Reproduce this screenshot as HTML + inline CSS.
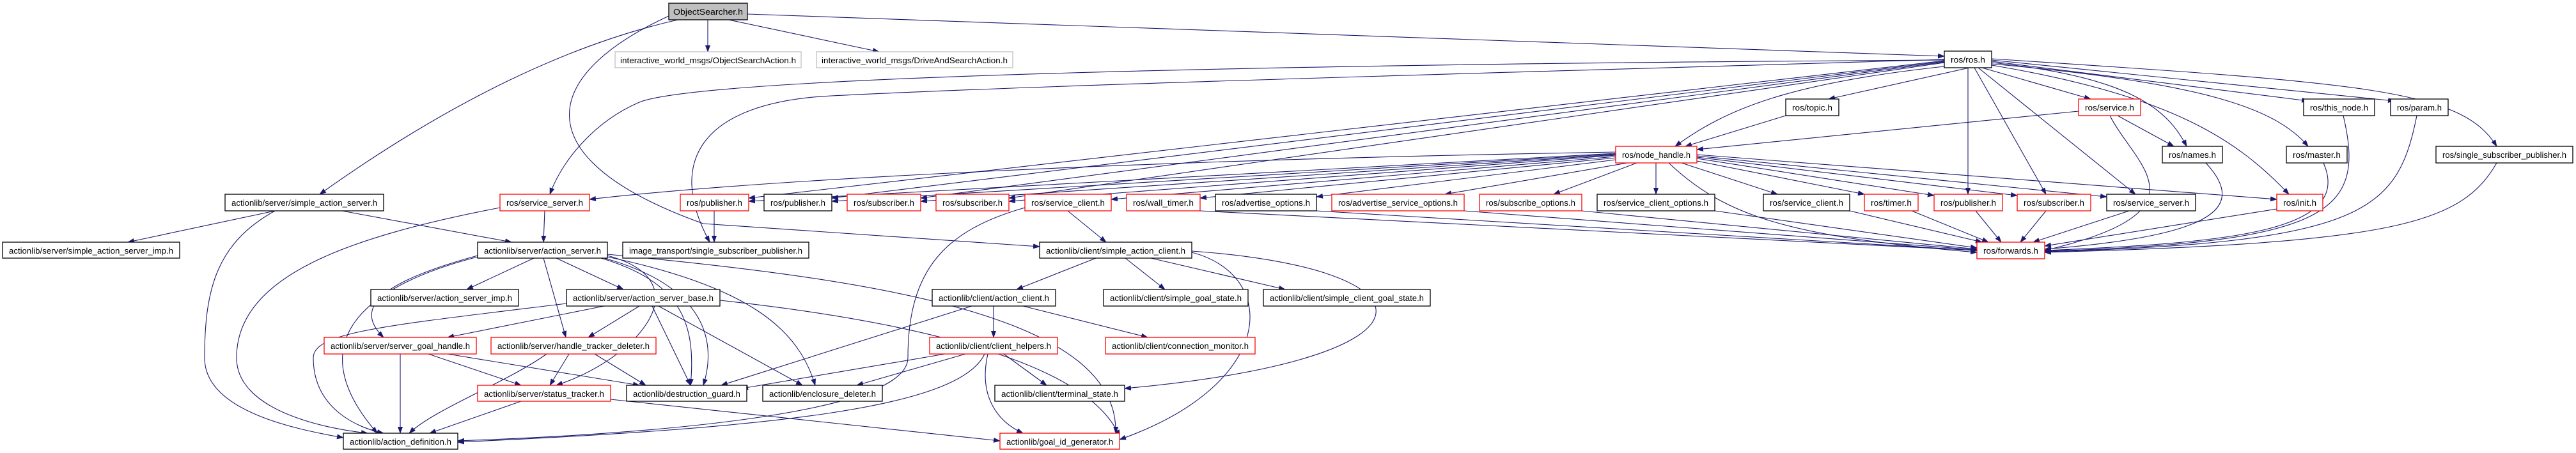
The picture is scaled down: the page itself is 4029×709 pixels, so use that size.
<!DOCTYPE html>
<html><head><meta charset="utf-8"><style>
html,body{margin:0;padding:0;background:#fff;}
svg{display:block}
text{font-family:"Liberation Sans",sans-serif;font-size:13px;fill:#000;}
.b{fill:#fff;stroke:#000;stroke-width:1.3}
.r{fill:#fff;stroke:#ff0000;stroke-width:1.3}
.g{fill:#fff;stroke:#bfbfbf;stroke-width:1.3}
.e path{fill:none;stroke:#191970;stroke-width:1.1;marker-end:url(#a)}
</style></head><body>
<svg width="4029" height="709" viewBox="0 0 4029 709" xmlns="http://www.w3.org/2000/svg">
<defs><marker id="a" markerUnits="userSpaceOnUse" markerWidth="11" markerHeight="8" refX="10" refY="4" orient="auto"><path d="M0,0 L11,4 L0,8 z" fill="#191970"/></marker></defs>
<g class="e">
<path d="M1107,31 L1107,81"/>
<path d="M1140,31 L1375,81"/>
<path d="M1169,22 L3041,88"/>
<path d="M1060,31 Q800,90 500,304"/>
<path d="M1046,25 C840,120 820,250 1100,350 L1626,386"/>
<path d="M3080,106 L2860,155"/>
<path d="M3041,104 C2800,130 2700,170 2620,229"/>
<path d="M3100,106 L3270,155"/>
<path d="M3115,96 L3610,158"/>
<path d="M3115,94 L3745,158"/>
<path d="M3115,98 C3330,120 3390,170 3420,229"/>
<path d="M3115,100 C3450,130 3560,170 3610,229"/>
<path d="M3115,92 C3700,130 3850,140 3905,229"/>
<path d="M3078,106 L3078,304"/>
<path d="M3088,106 L3200,304"/>
<path d="M3094,106 L3340,304"/>
<path d="M3115,102 C3400,150 3500,220 3580,304"/>
<path d="M3041,95 L1171,310"/>
<path d="M3041,96 L1301,310"/>
<path d="M3041,97 L1440,310"/>
<path d="M3041,98 L1578,310"/>
<path d="M3041,94 C2000,100 1100,120 1000,160 C930,190 880,250 860,304"/>
<path d="M3041,93 C2500,110 1700,130 1300,150 C1100,160 1040,250 1110,379"/>
<path d="M2527,238 C1800,250 1200,280 922,312"/>
<path d="M2527,240 L1171,315"/>
<path d="M2527,241 L1301,315"/>
<path d="M2527,242 L1440,315"/>
<path d="M2527,243 L1578,315"/>
<path d="M2527,245 L1738,312"/>
<path d="M2527,247 L1877,310"/>
<path d="M2527,250 L2059,308"/>
<path d="M2545,255 L2260,304"/>
<path d="M2560,255 L2430,304"/>
<path d="M2590,255 L2590,304"/>
<path d="M2630,255 L2780,304"/>
<path d="M2654,252 L2916,304"/>
<path d="M2654,248 L3025,306"/>
<path d="M2654,246 L3155,306"/>
<path d="M2654,244 L3295,308"/>
<path d="M2654,242 L3561,312"/>
<path d="M2610,255 C2700,340 2800,370 3092,395"/>
<path d="M2793,181 L2636,229"/>
<path d="M3251,174 L2654,234"/>
<path d="M3312,181 L3400,229"/>
<path d="M3300,181 C3340,260 3460,330 3198,392"/>
<path d="M1877,330 L3092,392"/>
<path d="M2059,330 L3092,392"/>
<path d="M2290,330 L3092,391"/>
<path d="M2474,330 L3092,390"/>
<path d="M2682,330 L3092,388"/>
<path d="M2893,330 L3100,379"/>
<path d="M2990,330 L3110,379"/>
<path d="M3090,330 L3130,379"/>
<path d="M3200,330 L3160,379"/>
<path d="M3330,330 L3180,379"/>
<path d="M3561,327 L3198,385"/>
<path d="M3450,255 C3520,330 3450,370 3198,390"/>
<path d="M3634,255 C3680,360 3500,380 3198,392"/>
<path d="M3665,181 C3700,330 3650,380 3198,393"/>
<path d="M3780,181 C3750,330 3700,380 3198,394"/>
<path d="M3905,255 C3850,350 3750,380 3198,395"/>
<path d="M1117,330 L1117,379"/>
<path d="M1670,330 L1730,379"/>
<path d="M1603,325 C1480,360 1420,420 1420,560 C1420,650 1000,680 716,690"/>
<path d="M852,330 L850,379"/>
<path d="M782,325 C550,370 370,430 370,560 C370,640 500,670 575,678"/>
<path d="M430,330 L200,379"/>
<path d="M535,330 L800,379"/>
<path d="M430,330 C340,380 320,450 320,560 C320,640 450,670 537,685"/>
<path d="M835,404 L730,453"/>
<path d="M870,404 L975,453"/>
<path d="M747,400 C600,440 550,480 600,528"/>
<path d="M850,404 L885,528"/>
<path d="M747,402 C560,450 470,540 590,678"/>
<path d="M940,404 C1060,440 1090,500 1080,603"/>
<path d="M945,404 C1110,450 1120,540 1100,603"/>
<path d="M950,402 C1180,450 1250,520 1275,603"/>
<path d="M950,400 C1100,440 1000,560 870,603"/>
<path d="M950,398 C1400,440 1750,500 1745,678"/>
<path d="M945,479 L700,528"/>
<path d="M1000,479 L920,528"/>
<path d="M886,475 C600,510 490,520 490,560 C490,640 560,670 600,678"/>
<path d="M1020,479 L1080,603"/>
<path d="M1030,479 L1255,603"/>
<path d="M1126,470 C1400,500 1700,560 1751,683"/>
<path d="M626,554 L626,678"/>
<path d="M670,554 L815,603"/>
<path d="M700,554 L1000,603"/>
<path d="M855,554 C790,600 680,640 640,678"/>
<path d="M890,554 L860,603"/>
<path d="M930,554 L1010,603"/>
<path d="M815,628 L672,678"/>
<path d="M955,625 L1564,690"/>
<path d="M1714,404 L1590,453"/>
<path d="M1760,404 L1822,453"/>
<path d="M1800,404 L2010,453"/>
<path d="M1864,393 C2250,420 2280,560 1759,608"/>
<path d="M1864,395 C2000,430 2000,600 1751,688"/>
<path d="M1554,479 L1554,528"/>
<path d="M1600,479 L1795,528"/>
<path d="M1520,479 L1128,603"/>
<path d="M1478,554 L1160,608"/>
<path d="M1510,554 L1340,603"/>
<path d="M1570,554 L1637,603"/>
<path d="M1545,554 C1530,620 1560,660 1600,678"/>
<path d="M1540,554 C1500,640 1200,670 716,692"/>
</g>
<g>
<rect x="1046" y="5" width="123" height="26" fill="#bfbfbf" stroke="#000" stroke-width="1.3"/><text x="1053" y="23" textLength="109" lengthAdjust="spacingAndGlyphs">ObjectSearcher.h</text>
<rect class="g" x="962" y="81" width="291" height="25"/><text x="970" y="99" textLength="275" lengthAdjust="spacingAndGlyphs">interactive_world_msgs/ObjectSearchAction.h</text>
<rect class="g" x="1277" y="81" width="307" height="25"/><text x="1285" y="99" textLength="291" lengthAdjust="spacingAndGlyphs">interactive_world_msgs/DriveAndSearchAction.h</text>
<rect class="b" x="3041" y="80" width="74" height="26"/><text x="3051" y="98" textLength="54" lengthAdjust="spacingAndGlyphs">ros/ros.h</text>
<rect class="b" x="2793" y="155" width="83" height="26"/><text x="2803" y="173" textLength="63" lengthAdjust="spacingAndGlyphs">ros/topic.h</text>
<rect class="r" x="3251" y="155" width="97" height="26"/><text x="3261" y="173" textLength="77" lengthAdjust="spacingAndGlyphs">ros/service.h</text>
<rect class="b" x="3603" y="155" width="111" height="26"/><text x="3613" y="173" textLength="91" lengthAdjust="spacingAndGlyphs">ros/this_node.h</text>
<rect class="b" x="3739" y="155" width="90" height="26"/><text x="3749" y="173" textLength="70" lengthAdjust="spacingAndGlyphs">ros/param.h</text>
<rect class="r" x="2527" y="229" width="127" height="26"/><text x="2537" y="247" textLength="107" lengthAdjust="spacingAndGlyphs">ros/node_handle.h</text>
<rect class="b" x="3382" y="229" width="94" height="26"/><text x="3392" y="247" textLength="74" lengthAdjust="spacingAndGlyphs">ros/names.h</text>
<rect class="b" x="3576" y="229" width="95" height="26"/><text x="3586" y="247" textLength="75" lengthAdjust="spacingAndGlyphs">ros/master.h</text>
<rect class="b" x="3810" y="229" width="214" height="26"/><text x="3820" y="247" textLength="194" lengthAdjust="spacingAndGlyphs">ros/single_subscriber_publisher.h</text>

<rect class="b" x="352" y="304" width="248" height="26"/><text x="362" y="322" textLength="228" lengthAdjust="spacingAndGlyphs">actionlib/server/simple_action_server.h</text>
<rect class="r" x="782" y="304" width="140" height="26"/><text x="792" y="322" textLength="120" lengthAdjust="spacingAndGlyphs">ros/service_server.h</text>
<rect class="r" x="1064" y="304" width="107" height="26"/><text x="1074" y="322" textLength="87" lengthAdjust="spacingAndGlyphs">ros/publisher.h</text>
<rect class="b" x="1195" y="304" width="106" height="26"/><text x="1205" y="322" textLength="86" lengthAdjust="spacingAndGlyphs">ros/publisher.h</text>
<rect class="r" x="1325" y="304" width="115" height="26"/><text x="1335" y="322" textLength="95" lengthAdjust="spacingAndGlyphs">ros/subscriber.h</text>
<rect class="r" x="1464" y="304" width="114" height="26"/><text x="1474" y="322" textLength="94" lengthAdjust="spacingAndGlyphs">ros/subscriber.h</text>
<rect class="r" x="1603" y="304" width="135" height="26"/><text x="1613" y="322" textLength="115" lengthAdjust="spacingAndGlyphs">ros/service_client.h</text>
<rect class="r" x="1762" y="304" width="115" height="26"/><text x="1772" y="322" textLength="95" lengthAdjust="spacingAndGlyphs">ros/wall_timer.h</text>
<rect class="b" x="1901" y="304" width="158" height="26"/><text x="1911" y="322" textLength="138" lengthAdjust="spacingAndGlyphs">ros/advertise_options.h</text>
<rect class="r" x="2083" y="304" width="207" height="26"/><text x="2093" y="322" textLength="187" lengthAdjust="spacingAndGlyphs">ros/advertise_service_options.h</text>
<rect class="r" x="2314" y="304" width="160" height="26"/><text x="2324" y="322" textLength="140" lengthAdjust="spacingAndGlyphs">ros/subscribe_options.h</text>
<rect class="b" x="2498" y="304" width="184" height="26"/><text x="2508" y="322" textLength="164" lengthAdjust="spacingAndGlyphs">ros/service_client_options.h</text>
<rect class="b" x="2758" y="304" width="135" height="26"/><text x="2768" y="322" textLength="115" lengthAdjust="spacingAndGlyphs">ros/service_client.h</text>
<rect class="r" x="2916" y="304" width="84" height="26"/><text x="2926" y="322" textLength="64" lengthAdjust="spacingAndGlyphs">ros/timer.h</text>
<rect class="r" x="3025" y="304" width="107" height="26"/><text x="3035" y="322" textLength="87" lengthAdjust="spacingAndGlyphs">ros/publisher.h</text>
<rect class="r" x="3155" y="304" width="115" height="26"/><text x="3165" y="322" textLength="95" lengthAdjust="spacingAndGlyphs">ros/subscriber.h</text>
<rect class="b" x="3295" y="304" width="139" height="26"/><text x="3305" y="322" textLength="119" lengthAdjust="spacingAndGlyphs">ros/service_server.h</text>
<rect class="r" x="3561" y="304" width="72" height="26"/><text x="3571" y="322" textLength="52" lengthAdjust="spacingAndGlyphs">ros/init.h</text>

<rect class="b" x="4" y="379" width="277" height="25"/><text x="14" y="397" textLength="257" lengthAdjust="spacingAndGlyphs">actionlib/server/simple_action_server_imp.h</text>
<rect class="b" x="747" y="379" width="203" height="25"/><text x="757" y="397" textLength="183" lengthAdjust="spacingAndGlyphs">actionlib/server/action_server.h</text>
<rect class="b" x="974" y="379" width="291" height="25"/><text x="984" y="397" textLength="271" lengthAdjust="spacingAndGlyphs">image_transport/single_subscriber_publisher.h</text>
<rect class="b" x="1626" y="379" width="238" height="25"/><text x="1636" y="397" textLength="218" lengthAdjust="spacingAndGlyphs">actionlib/client/simple_action_client.h</text>
<rect class="r" x="3092" y="379" width="106" height="26"/><text x="3102" y="397" textLength="86" lengthAdjust="spacingAndGlyphs">ros/forwards.h</text>

<rect class="b" x="580" y="453" width="231" height="26"/><text x="590" y="471" textLength="211" lengthAdjust="spacingAndGlyphs">actionlib/server/action_server_imp.h</text>
<rect class="b" x="886" y="453" width="240" height="26"/><text x="896" y="471" textLength="220" lengthAdjust="spacingAndGlyphs">actionlib/server/action_server_base.h</text>
<rect class="b" x="1458" y="453" width="193" height="26"/><text x="1468" y="471" textLength="173" lengthAdjust="spacingAndGlyphs">actionlib/client/action_client.h</text>
<rect class="b" x="1726" y="453" width="226" height="26"/><text x="1736" y="471" textLength="206" lengthAdjust="spacingAndGlyphs">actionlib/client/simple_goal_state.h</text>
<rect class="b" x="1976" y="453" width="261" height="26"/><text x="1986" y="471" textLength="241" lengthAdjust="spacingAndGlyphs">actionlib/client/simple_client_goal_state.h</text>

<rect class="r" x="507" y="528" width="238" height="26"/><text x="517" y="546" textLength="218" lengthAdjust="spacingAndGlyphs">actionlib/server/server_goal_handle.h</text>
<rect class="r" x="768" y="528" width="258" height="26"/><text x="778" y="546" textLength="238" lengthAdjust="spacingAndGlyphs">actionlib/server/handle_tracker_deleter.h</text>
<rect class="r" x="1454" y="528" width="200" height="26"/><text x="1464" y="546" textLength="180" lengthAdjust="spacingAndGlyphs">actionlib/client/client_helpers.h</text>
<rect class="r" x="1729" y="528" width="234" height="26"/><text x="1739" y="546" textLength="214" lengthAdjust="spacingAndGlyphs">actionlib/client/connection_monitor.h</text>

<rect class="r" x="747" y="603" width="208" height="25"/><text x="757" y="621" textLength="188" lengthAdjust="spacingAndGlyphs">actionlib/server/status_tracker.h</text>
<rect class="b" x="980" y="603" width="188" height="25"/><text x="990" y="621" textLength="168" lengthAdjust="spacingAndGlyphs">actionlib/destruction_guard.h</text>
<rect class="b" x="1193" y="603" width="187" height="25"/><text x="1203" y="621" textLength="167" lengthAdjust="spacingAndGlyphs">actionlib/enclosure_deleter.h</text>
<rect class="b" x="1556" y="603" width="203" height="25"/><text x="1566" y="621" textLength="183" lengthAdjust="spacingAndGlyphs">actionlib/client/terminal_state.h</text>

<rect class="b" x="537" y="678" width="179" height="25"/><text x="547" y="696" textLength="159" lengthAdjust="spacingAndGlyphs">actionlib/action_definition.h</text>
<rect class="r" x="1564" y="678" width="187" height="25"/><text x="1574" y="696" textLength="167" lengthAdjust="spacingAndGlyphs">actionlib/goal_id_generator.h</text>
</g>
</svg>
</body></html>
